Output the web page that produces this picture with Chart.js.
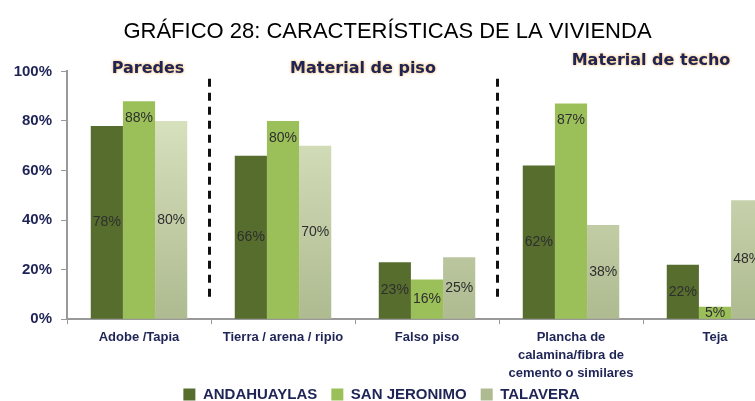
<!DOCTYPE html>
<html>
<head>
<meta charset="utf-8">
<script src="https://cdn.jsdelivr.net/npm/chart.js@4"></script>
<style>
  html, body { margin: 0; padding: 0; background: #ffffff; overflow: hidden; }
  #wrap { width: 790px; height: 401px; }
</style>
</head>
<body>
<div id="wrap"><canvas id="chart" width="790" height="401"></canvas></div>
<script>
// ==========================================
// DATA
// ==========================================
const categories = [
    ['Adobe /Tapia'],
    ['Tierra / arena / ripio'],
    ['Falso piso'],
    ['Plancha de', 'calamina/fibra de', 'cemento o similares'],
    ['Teja']
];
const andahuaylas  = [78, 66, 23, 62, 22];
const sanJeronimo  = [88, 80, 16, 87, 5];
const talavera     = [80, 70, 25, 38, 48];
const seriesNames  = ['ANDAHUAYLAS', 'SAN JERONIMO', 'TALAVERA'];
const yTicks       = [0, 20, 40, 60, 80, 100];
const sectionNames = ['Paredes', 'Material de piso', 'Material de techo'];

const navy = '#1f2456';
const glow = 'rgba(240,160,40,0.85)';

// light series gets a vertical gradient like the original
function lightFill(c) {
    const area = c.chart.chartArea;
    if (!area) return '#c9dba4';
    const g = c.chart.ctx.createLinearGradient(0, area.top, 0, area.bottom);
    g.addColorStop(0, '#e0eac8');
    g.addColorStop(1, '#aeba90');
    return g;
}

// ==========================================
// PLUGINS
// ==========================================
// value labels inside the bars
const valueLabels = {
    id: 'valueLabels',
    afterDatasetsDraw(chart) {
        const ctx = chart.ctx;
        ctx.save();
        ctx.font = '14px "Liberation Sans", Arial, sans-serif';
        ctx.fillStyle = '#2e2e2e';
        ctx.textAlign = 'center';
        ctx.textBaseline = 'middle';
        chart.data.datasets.forEach((ds, di) => {
            chart.getDatasetMeta(di).data.forEach((bar, i) => {
                const v = ds.data[i];
                let y = (bar.y + bar.base) / 2;
                if (di === 1 && v > 50) y = bar.y + 17;
                ctx.fillText(v + '%', bar.x, y);
            });
        });
        ctx.restore();
    }
};

// dashed separators and section headers
const sections = {
    id: 'sections',
    afterDatasetsDraw(chart) {
        const ctx = chart.ctx;
        const x = chart.scales.x;
        const y = chart.scales.y;
        const half = (x.getPixelForValue(1) - x.getPixelForValue(0)) / 2;
        ctx.save();
        ctx.strokeStyle = '#111';
        ctx.lineWidth = 3;
        ctx.setLineDash([8, 6]);
        [0, 2].forEach(i => {
            const px = Math.round(x.getPixelForValue(i) + half) - 1.5;
            ctx.beginPath();
            ctx.moveTo(px, y.getPixelForValue(97));
            ctx.lineTo(px, y.getPixelForValue(8));
            ctx.stroke();
        });
        ctx.setLineDash([]);
        ctx.font = 'bold 16px "DejaVu Sans", Verdana, sans-serif';
        ctx.textAlign = 'center';
        ctx.textBaseline = 'middle';
        ctx.shadowColor = glow;
        ctx.shadowBlur = 3;
        ctx.fillStyle = navy;
        const top = chart.chartArea.top;
        ctx.fillText(sectionNames[0], x.getPixelForValue(0) + 9, top - 3);
        ctx.fillText(sectionNames[1], x.getPixelForValue(1) + half + 8, top - 3);
        ctx.fillText(sectionNames[2], x.getPixelForValue(3) + half + 8, top - 11);
        ctx.restore();
    }
};

// the canvas is wider than the window; re-centre title and legend on the visible part
const recentre = {
    id: 'recentre',
    afterLayout(chart) {
        const t = chart.titleBlock, l = chart.legend;
        t.left -= 12; t.right -= 12;
        l.left -= 18; l.right -= 18;
        l.top -= 8; // legend clips to its box, so only move the top
        chart.scales.x.bottom += 20; // let the 3-line label draw past the trimmed axis box
    }
};

// ==========================================
// CHART
// ==========================================
new Chart(document.getElementById('chart'), {
    type: 'bar',
    data: {
        labels: categories,
        datasets: [
            { label: seriesNames[0], data: andahuaylas, backgroundColor: '#566d2e' },
            { label: seriesNames[1], data: sanJeronimo, backgroundColor: '#9bc059' },
            { label: seriesNames[2], data: talavera, backgroundColor: lightFill }
        ]
    },
    options: {
        responsive: false,
        animation: false,
        datasets: { bar: { categoryPercentage: 0.67, barPercentage: 1.0 } },
        layout: { padding: { top: 0, left: 12, right: 3, bottom: 0 } },
        plugins: {
            title: {
                display: true,
                text: 'GRÁFICO 28: CARACTERÍSTICAS DE LA VIVIENDA',
                color: '#000',
                font: { family: '"Liberation Sans", Arial', size: 22, weight: 'normal', lineHeight: 1.2 },
                padding: { top: 19, bottom: 26 }
            },
            legend: {
                position: 'bottom',
                maxHeight: 20,
                labels: {
                    color: navy,
                    boxWidth: 12,
                    boxHeight: 12,
                    padding: 14,
                    font: { family: '"Liberation Sans", Arial, sans-serif', size: 15, weight: 'bold' }
                }
            },
            tooltip: { enabled: false }
        },
        scales: {
            x: {
                afterFit: axis => { axis.height -= 5; },
                grid: { display: true, drawOnChartArea: false, offset: true, tickLength: 5, color: '#999' },
                border: { color: '#999', width: 2 },
                ticks: {
                    color: navy,
                    maxRotation: 0,
                    autoSkip: false,
                    padding: 4,
                    font: { family: '"Liberation Sans", Arial, sans-serif', size: 13, weight: 'bold', lineHeight: 1.38 }
                }
            },
            y: {
                min: 0,
                max: 100,
                afterFit: axis => { axis.width = 55; },
                afterBuildTicks: axis => { axis.ticks = yTicks.map(v => ({ value: v })); },
                grid: { display: true, drawOnChartArea: false, tickLength: 6, color: '#999' },
                border: { color: '#999', width: 2 },
                ticks: {
                    color: navy,
                    padding: 9,
                    callback: v => v + '%',
                    font: { family: '"Liberation Sans", Arial, sans-serif', size: 15, weight: 'bold' }
                }
            }
        }
    },
    plugins: [recentre, valueLabels, sections]
});
</script>
</body>
</html>
